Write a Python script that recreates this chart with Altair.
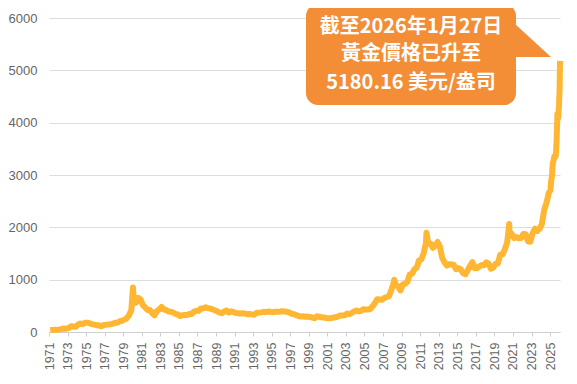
import altair as alt
import pandas as pd

# ---- data (approximate gold price, USD / oz) ----
quarter_years = list(range(1971, 2025))
quarterly_prices = [
    [38, 40, 42, 43],        # 1971
    [48, 57, 66, 63],        # 1972
    [75, 110, 105, 98],      # 1973
    [140, 162, 150, 175],    # 1974
    [178, 168, 150, 140],    # 1975
    [131, 127, 110, 132],    # 1976
    [136, 145, 146, 160],    # 1977
    [175, 178, 205, 215],    # 1978
    [236, 262, 320, 420],    # 1979
    [630, 560, 650, 620],    # 1980
    [510, 470, 420, 420],    # 1981
    [360, 320, 400, 430],    # 1982
    [480, 430, 420, 390],    # 1983
    [385, 375, 345, 335],    # 1984
    [305, 320, 325, 325],    # 1985
    [345, 345, 390, 405],    # 1986
    [405, 450, 455, 475],    # 1987
    [455, 450, 430, 415],    # 1988
    [395, 370, 360, 390],    # 1989
    [410, 370, 395, 380],    # 1990
    [365, 360, 355, 360],    # 1991
    [352, 340, 345, 337],    # 1992
    [330, 370, 370, 375],    # 1993
    [385, 380, 390, 385],    # 1994
    [378, 387, 385, 385],    # 1995
    [400, 390, 385, 375],    # 1996
    [350, 342, 325, 305],    # 1997
    [295, 300, 290, 295],    # 1998
    [288, 277, 262, 300],    # 1999
    [290, 283, 277, 268],    # 2000
    [265, 265, 275, 280],    # 2001
    [295, 315, 315, 322],    # 2002
    [352, 340, 365, 392],    # 2003
    [410, 393, 403, 435],    # 2004
    [428, 430, 440, 490],    # 2005
    [555, 627, 622, 614],    # 2006
    [650, 668, 680, 790],    # 2007
    [925, 895, 870, 795],    # 2008
    [910, 922, 960, 1100],   # 2009
    [1110, 1195, 1230, 1370],  # 2010
    [1385, 1505, 1700, 1690],  # 2011
    [1690, 1610, 1650, 1720],  # 2012
    [1630, 1415, 1330, 1270],  # 2013
    [1295, 1290, 1280, 1200],  # 2014
    [1220, 1195, 1125, 1105],  # 2015
    [1180, 1260, 1335, 1220],  # 2016
    [1220, 1255, 1280, 1275],  # 2017
    [1330, 1305, 1210, 1230],  # 2018
    [1305, 1310, 1475, 1480],  # 2019
    [1580, 1710, 1910, 1875],  # 2020
    [1795, 1815, 1790, 1795],  # 2021
    [1875, 1870, 1730, 1725],  # 2022
    [1890, 1975, 1930, 1975],  # 2023
    [2070, 2340, 2475, 2665],  # 2024
]
monthly_2025 = [2710, 2895, 2985, 3225, 3280, 3355, 3340, 3370, 3665, 4165, 4090, 4320]
spike_times = [1980.05, 1980.12, 2008.2, 2011.68, 2020.6, 2026.03, 2026.07]
spike_prices = [850, 680, 1000, 1895, 2065, 4650, 5180]

callout_lines = ["截至2026年1月27日", "黃金價格已升至", "5180.16 美元/盎司"]
x_label_years = list(range(1971, 2026, 2))
y_ticks = list(range(0, 6001, 1000))

# ---- build table ----
t, p = [], []
for yr, qs in zip(quarter_years, quarterly_prices):
    for q, v in enumerate(qs):
        t.append(yr + q * 0.25 + 0.125)
        p.append(v)
for m, v in enumerate(monthly_2025):
    t.append(2025 + (m + 0.5) / 12)
    p.append(v)
t += spike_times
p += spike_prices
df = pd.DataFrame({"t": t, "price": p}).sort_values("t")

ORANGE_LINE = "#FFB733"
BOX = "#F38D36"

line = alt.Chart(df).mark_line(color=ORANGE_LINE, strokeWidth=6, strokeJoin="round").encode(
    x=alt.X("t:Q",
            scale=alt.Scale(domain=[1971, 2026.07], nice=False, zero=False),
            axis=alt.Axis(values=x_label_years, format="d", labelAngle=-90,
                          labelFontSize=12.5, labelColor="#666", labelFont="Liberation Sans",
                          tickColor="#d0d0d0", domainColor="#d0d0d0", tickSize=4,
                          labelPadding=6, grid=False, title=None)),
    y=alt.Y("price:Q",
            scale=alt.Scale(domain=[0, 6000], nice=False),
            axis=alt.Axis(values=y_ticks, format="d", ticks=False, domain=False,
                          gridColor="#dddddd",
                          labelFontSize=13, labelColor="#666", labelFont="Liberation Sans",
                          labelPadding=12, title=None)),
)

one = pd.DataFrame({"a": [0]})
box = alt.Chart(one).mark_rect(color=BOX, cornerRadius=12).encode(
    x=alt.value(257), x2=alt.value(467), y=alt.value(-14), y2=alt.value(87)
)
pointer = alt.Chart(one).mark_point(
    shape="M -1 -0.92 L 1 0.92 L -1 0.92 Z", size=1296, filled=True,
    color=BOX, opacity=1, strokeWidth=0
).encode(x=alt.value(484), y=alt.value(22.5))

text_ys = [9, 36, 65]
texts = []
for line_txt, yy in zip(callout_lines, text_ys):
    texts.append(
        alt.Chart(pd.DataFrame({"txt": [line_txt]})).mark_text(
            font="Noto Sans CJK TC", fontSize=20, fontWeight="bold", color="white",
            align="center", baseline="middle"
        ).encode(x=alt.value(362), y=alt.value(yy), text="txt:N")
    )

chart = alt.layer(line, box, pointer, *texts).properties(
    width=511, height=314,
    autosize=alt.AutoSizeParams(type="none"),
    padding={"left": 41, "top": 10, "right": 9, "bottom": 44},
).configure_view(stroke=None)

chart.save("out.html", embed_options={"renderer": "svg", "actions": False})
